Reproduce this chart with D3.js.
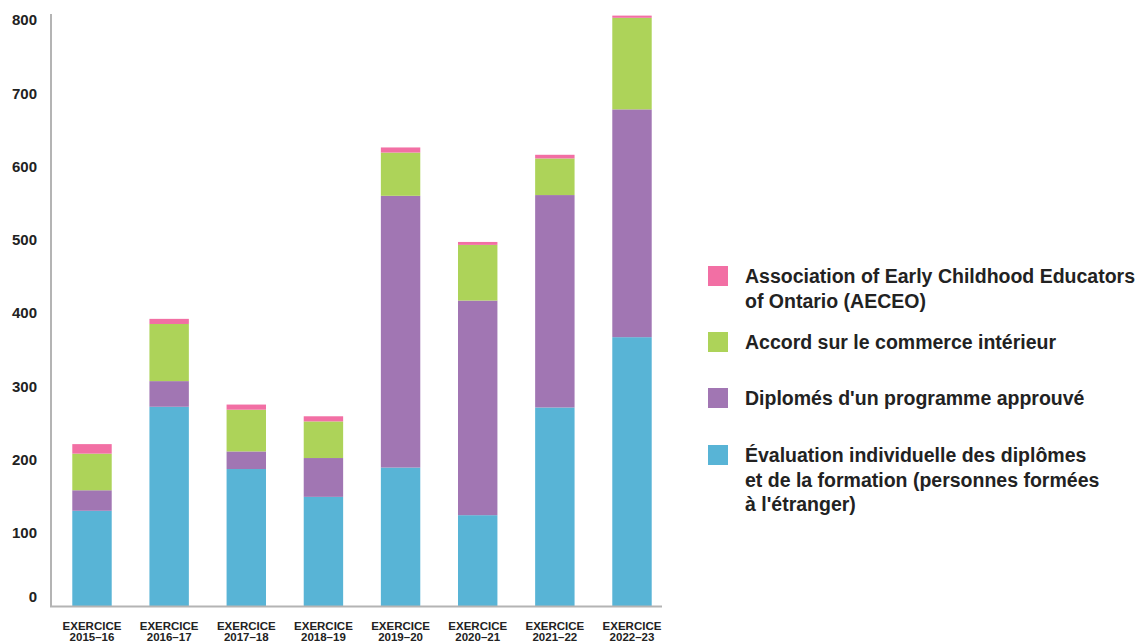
<!DOCTYPE html>
<html>
<head>
<meta charset="utf-8">
<script src="https://cdn.jsdelivr.net/npm/d3@7"></script>
<style>
  body { margin: 0; background: #fff; }
  svg { display: block; font-family: "Liberation Sans", Arial, sans-serif; }
</style>
</head>
<body>
<svg id="chart" width="1138" height="642"></svg>
<script>
// ---------------- data ----------------
var years = ["2015–16", "2016–17", "2017–18", "2018–19", "2019–20", "2020–21", "2021–22", "2022–23"];
var evaluation = [130, 272, 187, 149, 189, 124, 271, 367];   // Évaluation individuelle (formées à l'étranger)
var diplomes   = [28, 35, 24, 53, 371, 293, 290, 311];      // Diplomés d'un programme approuvé
var accord     = [50, 78, 57, 50, 59, 76, 50, 125];         // Accord sur le commerce intérieur
var aeceo      = [13, 7, 7, 7, 7, 4, 5, 3];                 // AECEO
var yTicks = [0, 100, 200, 300, 400, 500, 600, 700, 800];

var keys = ["evaluation", "diplomes", "accord", "aeceo"];
var legendLines = {
  aeceo: ["Association of Early Childhood Educators", "of Ontario (AECEO)"],
  accord: ["Accord sur le commerce intérieur"],
  diplomes: ["Diplomés d'un programme approuvé"],
  evaluation: ["Évaluation individuelle des diplômes", "et de la formation (personnes formées", "à l'étranger)"]
};

// build rows for d3.stack
var data = years.map(function(yr, i) {
  return { year: yr, evaluation: evaluation[i], diplomes: diplomes[i], accord: accord[i], aeceo: aeceo[i] };
});

var svg = d3.select("#chart");

// scales
var x = d3.scaleBand()
    .domain(years)
    .range([51, 673])
    .paddingInner(0.489)
    .paddingOuter(0.276);

var y = d3.scaleLinear()
    .domain([0, 800])
    .range([606, 20]);

var z = d3.scaleOrdinal()
    .domain(keys)
    .range(["#58b4d6", "#a176b3", "#add359", "#f26fa4"]);

// bars
svg.append("g")
  .selectAll("g")
  .data(d3.stack().keys(keys)(data))
  .enter().append("g")
    .attr("fill", function(d) { return z(d.key); })
  .selectAll("rect")
  .data(function(d) { return d; })
  .enter().append("rect")
    .attr("x", function(d) { return x(d.data.year); })
    .attr("y", function(d) { return y(d[1]); })
    .attr("height", function(d) { return y(d[0]) - y(d[1]); })
    .attr("width", x.bandwidth());

// y axis (no tick marks, gray line drawn by hand)
var yAxis = svg.append("g")
    .attr("transform", "translate(51,0)")
    .call(d3.axisLeft(y).tickValues(yTicks).tickSize(0).tickPadding(14));
yAxis.select(".domain").remove();
yAxis.selectAll("text")
    .attr("font-family", "Liberation Sans, Arial, sans-serif")
    .attr("font-size", 15)
    .attr("font-weight", "bold")
    .attr("fill", "#222")
    .attr("dy", function(d) { return d === 0 ? "-0.3em" : "0.32em"; });

svg.append("line")
    .attr("x1", 51).attr("x2", 51)
    .attr("y1", 14).attr("y2", 607)
    .attr("stroke", "#b4b4b4").attr("stroke-width", 2);

// x axis
var xAxis = svg.append("g")
    .attr("transform", "translate(0,606)")
    .call(d3.axisBottom(x).tickSize(0));
xAxis.select(".domain").remove();
xAxis.selectAll("text").each(function(d) {
  var t = d3.select(this).text("")
      .attr("y", 0)
      .attr("dy", null)
      .attr("font-family", "Liberation Sans, Arial, sans-serif")
      .attr("font-size", 11.5)
      .attr("font-weight", "bold")
      .attr("fill", "#222");
  t.append("tspan").attr("x", 0).attr("y", 23.5).text("EXERCICE");
  t.append("tspan").attr("x", 0).attr("y", 35).text(d);
});

svg.append("line")
    .attr("x1", 50).attr("x2", 662)
    .attr("y1", 606.5).attr("y2", 606.5)
    .attr("stroke", "#b4b4b4").attr("stroke-width", 2);

// legend
var legendY = { aeceo: 266, accord: 332, diplomes: 388, evaluation: 445 };
var legend = svg.append("g")
    .attr("font-size", 19.5)
    .attr("font-weight", "bold")
    .attr("fill", "#222")
  .selectAll("g")
  .data(keys.slice().reverse())
  .enter().append("g")
    .attr("transform", function(d) { return "translate(708," + legendY[d] + ")"; });

legend.append("rect")
    .attr("width", 20)
    .attr("height", 20)
    .attr("fill", z);

legend.append("text")
    .attr("x", 37)
    .selectAll("tspan")
    .data(function(d) { return legendLines[d]; })
    .enter().append("tspan")
      .attr("x", 37)
      .attr("y", function(d, i) { return 17 + i * 24.5; })
      .text(function(d) { return d; });
</script>
</body>
</html>
